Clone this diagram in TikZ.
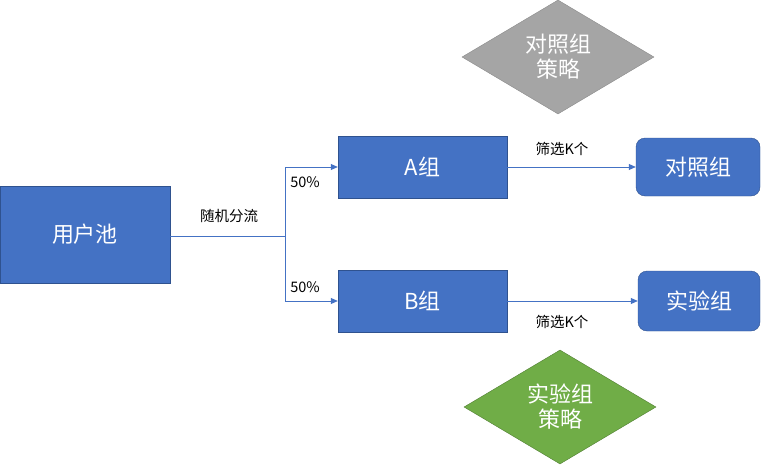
\documentclass[tikz,border=0pt]{standalone}
\usepackage{fontspec}
\setmainfont{Noto Sans CJK SC}
\usetikzlibrary{shapes.geometric,arrows.meta}
\definecolor{boxblue}{HTML}{4472C4}
\definecolor{edgeblue}{HTML}{2F528F}
\definecolor{stratgray}{HTML}{A5A5A5}
\definecolor{edgegray}{HTML}{8A8A8A}
\definecolor{stratgreen}{HTML}{70AD47}
\definecolor{edgegreen}{HTML}{507E32}
\tikzset{
  bluebox/.style={draw=edgeblue, fill=boxblue, text=white, font=\fontsize{22}{26}\selectfont},
  endbox/.style={bluebox, rounded corners=9pt},
  strat/.style={diamond, text=white, align=center, font=\fontsize{22}{25}\selectfont,
    minimum width=192pt, minimum height=114pt, inner sep=0pt},
  flow/.style={draw=boxblue, line width=0.8pt, -{Triangle[length=7pt,width=6pt]}},
  lbl/.style={font=\fontsize{14.5}{17}\selectfont, text=black}
}
\begin{document}
\begin{tikzpicture}[x=1pt,y=-1pt]
\useasboundingbox (0,0) rectangle (761,466);
\node[bluebox, minimum width=170pt, minimum height=97pt] (pool) at (85,234.5) {用户池};
\node[bluebox, minimum width=169pt, minimum height=62pt] (A) at (422.5,167) {A组};
\node[bluebox, minimum width=169pt, minimum height=62pt] (B) at (422.5,301) {B组};
\node[endbox, minimum width=124pt, minimum height=58pt] (ctrl) at (698,167) {对照组};
\node[endbox, minimum width=122pt, minimum height=60pt] (test) at (699,301) {实验组};
\node[strat, fill=stratgray, draw=edgegray] (cs) at (558,57) {对照组\\策略};
\node[strat, fill=stratgreen, draw=edgegreen] (ts) at (560,407) {实验组\\策略};
% split
\coordinate (fork) at (285,236);
\draw[draw=boxblue, line width=0.8pt] (pool.east |- fork) -- (fork);
\draw[flow] (fork) |- (A.west);
\draw[flow] (fork) |- (B.west);
\node[lbl] (split) at (229,216) {随机分流};
\node[lbl] (pa) at (305,182) {50\%};
\node[lbl] (pb) at (305,287) {50\%};
% select
\draw[flow] (A) -- (ctrl);
\draw[flow] (B) -- (test);
\node[lbl] (sa) at (562,149) {筛选K个};
\node[lbl] (sb) at (562,322) {筛选K个};
\end{tikzpicture}
\end{document}
